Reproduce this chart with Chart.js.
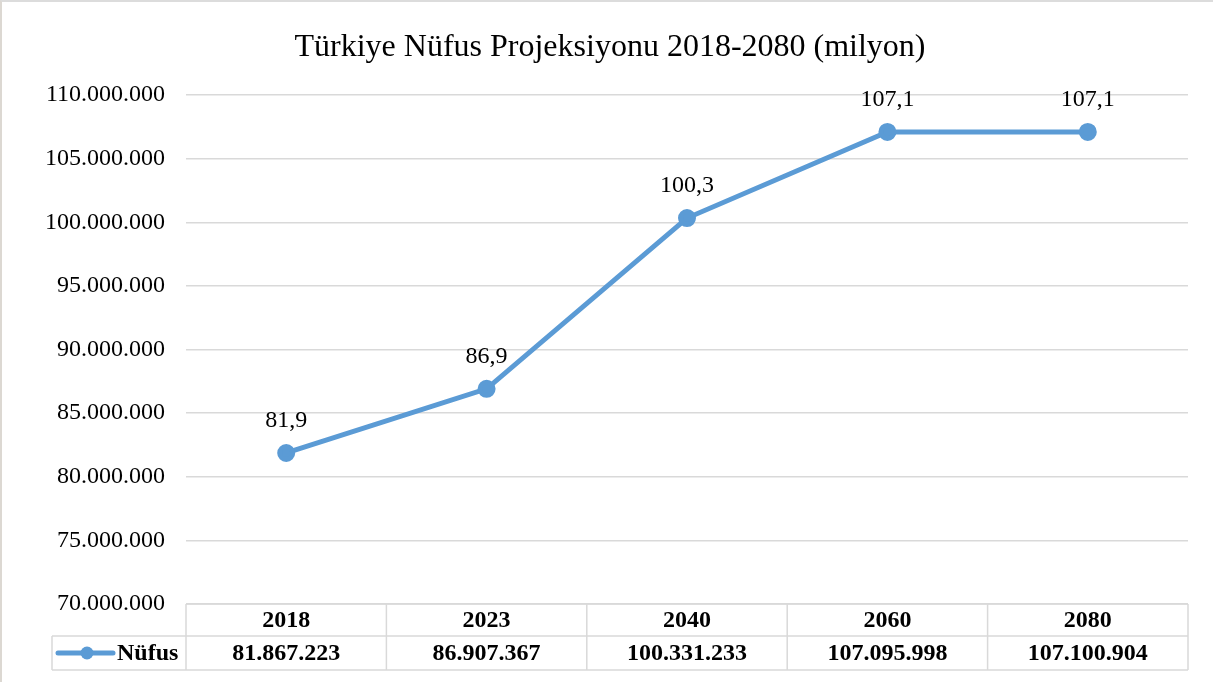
<!DOCTYPE html>
<html lang="tr">
<head>
    <meta charset="UTF-8">
    <title>Türkiye Nüfus Projeksiyonu</title>
    <style>
        html, body {
            margin: 0;
            padding: 0;
            background: #ffffff;
        }
        .frame {
            position: relative;
            width: 1213px;
            height: 682px;
            box-sizing: border-box;
            border-top: 2px solid #dcdcdc;
            border-left: 2px solid #dcd8d2;
        }
        #nufusChart {
            display: block;
        }
    </style>
</head>
<body>
    <div class="frame">
        <canvas id="nufusChart" width="1211" height="680"></canvas>
    </div>
    <script src="https://cdn.jsdelivr.net/npm/chart.js"></script>
    <script>
        const years = ['2018', '2023', '2040', '2060', '2080'];
        const nufus = [81867223, 86907367, 100331233, 107095998, 107100904];
        const pointLabels = ['81,9', '86,9', '100,3', '107,1', '107,1'];
        const seriesName = 'Nüfus';

        const lineColor = '#5b9bd5';
        const gridColor = '#d9d9d9';
        const serif = '"Liberation Serif", "Times New Roman", serif';

        function withDots(n) {
            return String(Math.round(n)).replace(/\B(?=(\d{3})+(?!\d))/g, '.');
        }

        // labels above each point
        const pointLabelPlugin = {
            id: 'pointLabels',
            afterDatasetsDraw(chart) {
                const ctx = chart.ctx;
                const meta = chart.getDatasetMeta(0);
                ctx.save();
                ctx.font = '24px ' + serif;
                ctx.fillStyle = '#000';
                ctx.textAlign = 'center';
                ctx.textBaseline = 'middle';
                meta.data.forEach((pt, i) => {
                    ctx.fillText(pointLabels[i], pt.x, pt.y - 32);
                });
                ctx.restore();
            }
        };

        // Excel-style data table under the plot
        const dataTablePlugin = {
            id: 'dataTable',
            afterDraw(chart) {
                const ctx = chart.ctx;
                const area = chart.chartArea;
                const xs = chart.scales.x;
                const colW = (area.right - area.left) / years.length;
                const top = area.bottom;
                const mid = top + 32;
                const bottom = mid + 34;
                const legendLeft = 50;

                ctx.save();
                ctx.strokeStyle = gridColor;
                ctx.lineWidth = 1.5;
                ctx.beginPath();
                ctx.moveTo(area.left, top);
                ctx.lineTo(area.right, top);
                ctx.moveTo(legendLeft, mid);
                ctx.lineTo(area.right, mid);
                ctx.moveTo(legendLeft, bottom);
                ctx.lineTo(area.right, bottom);
                ctx.moveTo(legendLeft, mid);
                ctx.lineTo(legendLeft, bottom);
                for (let i = 0; i <= years.length; i++) {
                    const x = area.left + i * colW;
                    ctx.moveTo(x, top);
                    ctx.lineTo(x, bottom);
                }
                ctx.stroke();

                ctx.fillStyle = '#000';
                ctx.font = 'bold 24px ' + serif;
                ctx.textAlign = 'center';
                ctx.textBaseline = 'middle';
                years.forEach((y, i) => {
                    const cx = xs.getPixelForValue(i);
                    ctx.fillText(y, cx, (top + mid) / 2 + 1);
                    ctx.fillText(withDots(nufus[i]), cx, (mid + bottom) / 2 + 1);
                });

                // legend key
                const ky = (mid + bottom) / 2;
                ctx.strokeStyle = lineColor;
                ctx.lineWidth = 5;
                ctx.lineCap = 'round';
                ctx.beginPath();
                ctx.moveTo(legendLeft + 6, ky);
                ctx.lineTo(legendLeft + 61, ky);
                ctx.stroke();
                ctx.fillStyle = lineColor;
                ctx.beginPath();
                ctx.arc(legendLeft + 35, ky, 6.5, 0, Math.PI * 2);
                ctx.fill();
                ctx.fillStyle = '#000';
                ctx.textAlign = 'left';
                ctx.fillText(seriesName, legendLeft + 65, ky + 1);
                ctx.restore();
            }
        };

        new Chart(document.getElementById('nufusChart'), {
            type: 'line',
            data: {
                labels: years,
                datasets: [{
                    label: seriesName,
                    data: nufus,
                    borderColor: lineColor,
                    backgroundColor: lineColor,
                    borderWidth: 5,
                    pointRadius: 6.5,
                    pointBackgroundColor: lineColor,
                    pointBorderColor: lineColor,
                    tension: 0
                }]
            },
            options: {
                responsive: false,
                animation: false,
                layout: {
                    padding: { left: 30, right: 25, top: 0, bottom: 78 }
                },
                plugins: {
                    legend: { display: false },
                    tooltip: { enabled: false },
                    title: {
                        display: true,
                        text: 'Türkiye Nüfus Projeksiyonu 2018-2080 (milyon)',
                        color: '#000',
                        font: { family: serif, size: 32, weight: 'normal' },
                        padding: { top: 26, bottom: 28.6 }
                    }
                },
                scales: {
                    x: {
                        display: false,
                        offset: true
                    },
                    y: {
                        min: 70000000,
                        max: 110000000,
                        afterFit(scale) { scale.width = 154; },
                        border: { display: false },
                        grid: { color: gridColor, lineWidth: 1.5, drawTicks: false },
                        ticks: {
                            stepSize: 5000000,
                            padding: 21,
                            color: '#000',
                            font: { family: serif, size: 24 },
                            callback: (v) => withDots(v)
                        }
                    }
                }
            },
            plugins: [pointLabelPlugin, dataTablePlugin]
        });
    </script>
</body>
</html>
